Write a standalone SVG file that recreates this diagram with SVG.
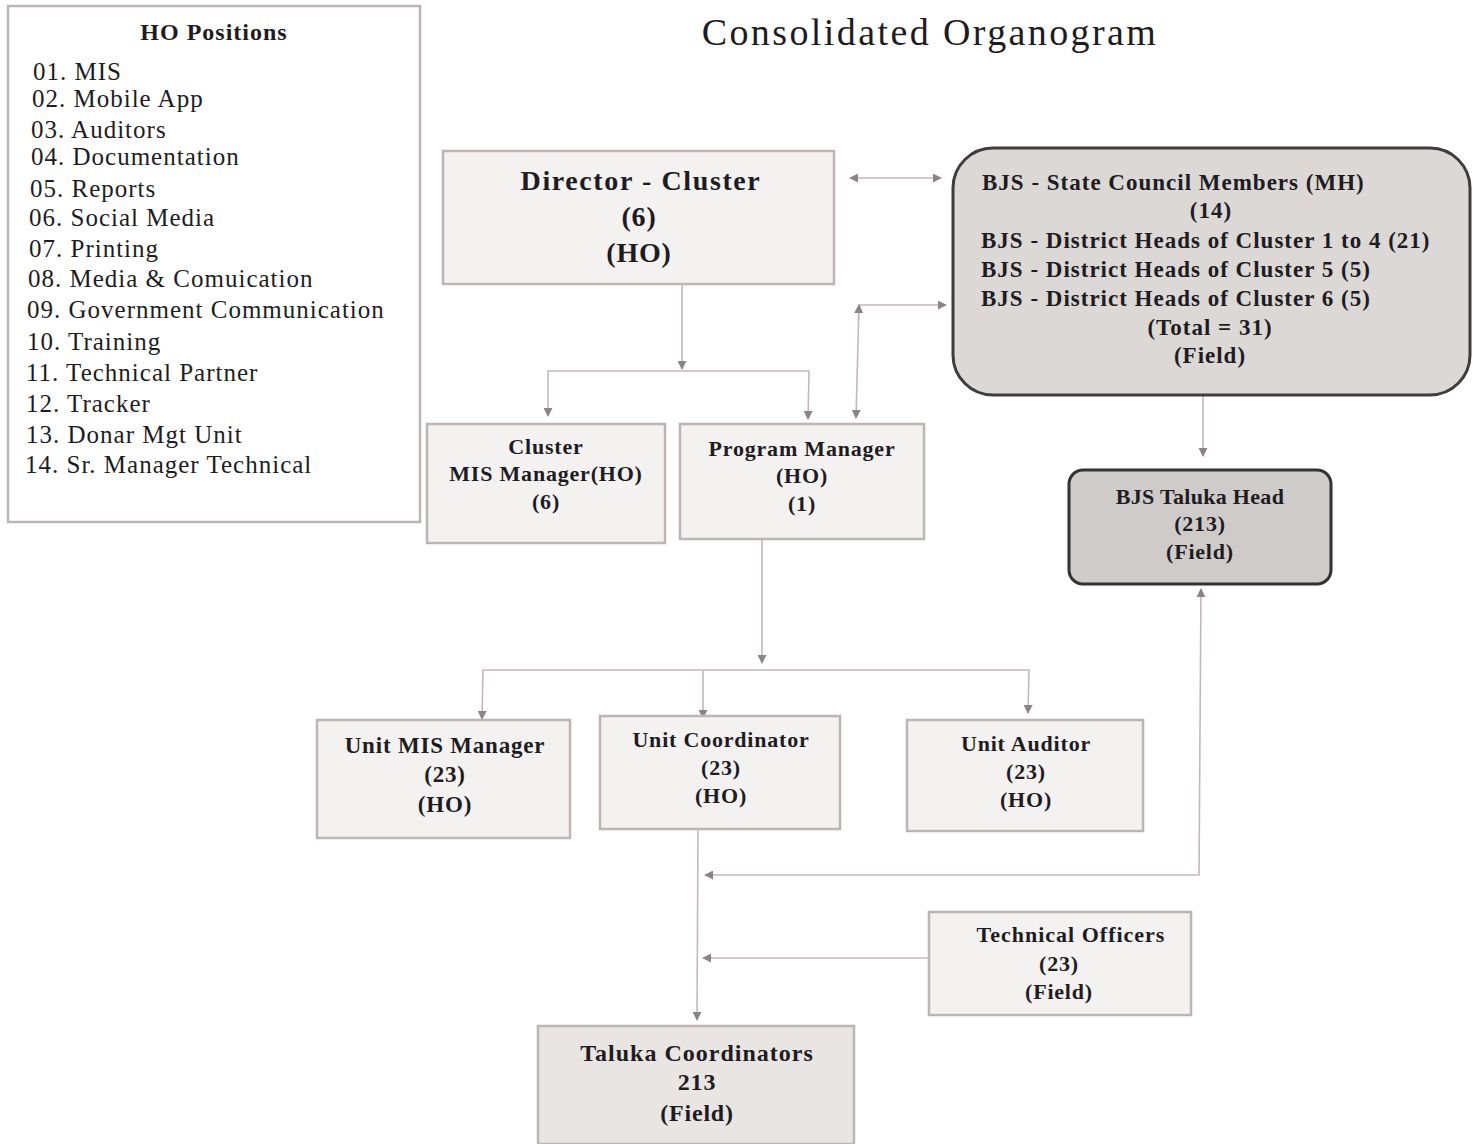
<svg xmlns="http://www.w3.org/2000/svg" width="1483" height="1144" viewBox="0 0 1483 1144">
<style>
text{font-family:"Liberation Serif","DejaVu Serif",serif;fill:#1e1c22}
.b{font-weight:bold}
.c{text-anchor:middle}
.box{fill:#f4f2f1;stroke:#bdb5b5;stroke-width:2.5}
.lst{font-size:25px;letter-spacing:1px}
.n{font-size:23px;font-weight:bold;text-anchor:middle;letter-spacing:0.8px}
.bjs{font-size:23px;font-weight:bold;letter-spacing:1px}
.ln{fill:none;stroke:#c4b8ba;stroke-width:1.6}
</style>
<defs>
<marker id="ah" viewBox="0 0 10 10" refX="9" refY="5" markerWidth="9" markerHeight="9" markerUnits="userSpaceOnUse" orient="auto-start-reverse">
<path d="M0,0 L10,5 L0,10 z" fill="#8a8486"/>
</marker>
</defs>
<rect width="1483" height="1144" fill="#ffffff"/>
<text x="930" y="45" class="c" font-size="38" style="letter-spacing:2.4px">Consolidated Organogram</text>

<g id="ho-positions">
<rect x="8" y="6" width="412" height="516" class="box" style="fill:#ffffff"/>
<text x="214" y="40" class="b c" font-size="24" style="letter-spacing:1px">HO Positions</text>
<text class="lst" x="33" y="80">01. MIS</text>
<text class="lst" x="32" y="107">02. Mobile App</text>
<text class="lst" x="31" y="138">03. Auditors</text>
<text class="lst" x="31" y="165">04. Documentation</text>
<text class="lst" x="30" y="197">05. Reports</text>
<text class="lst" x="29" y="226">06. Social Media</text>
<text class="lst" x="29" y="257">07. Printing</text>
<text class="lst" x="28" y="287">08. Media &amp; Comuication</text>
<text class="lst" x="27" y="318">09. Government Communication</text>
<text class="lst" x="27" y="350">10. Training</text>
<text class="lst" x="26" y="381">11. Technical Partner</text>
<text class="lst" x="26" y="412">12. Tracker</text>
<text class="lst" x="26" y="443">13. Donar Mgt Unit</text>
<text class="lst" x="25" y="473">14. Sr. Manager  Technical</text>
</g>

<g id="connectors">
<line x1="850" y1="178" x2="941" y2="178" class="ln" marker-start="url(#ah)" marker-end="url(#ah)"/>
<polyline points="946,305 859,305 856,418" class="ln" marker-start="url(#ah)" marker-end="url(#ah)"/>
<line x1="858.5" y1="320" x2="859" y2="305" class="ln" marker-end="url(#ah)"/>
<line x1="682" y1="284" x2="682" y2="369" class="ln" marker-end="url(#ah)"/>
<polyline points="548,416 548,371 809,371 808,419" class="ln" marker-start="url(#ah)" marker-end="url(#ah)"/>
<line x1="762" y1="540" x2="762" y2="663" class="ln" marker-end="url(#ah)"/>
<polyline points="482,719 483,670 1029,670 1028,713" class="ln" marker-start="url(#ah)" marker-end="url(#ah)"/>
<line x1="703" y1="670" x2="703" y2="718" class="ln" marker-end="url(#ah)"/>
<line x1="1203" y1="396" x2="1203" y2="456" class="ln" marker-end="url(#ah)"/>
<line x1="698" y1="829" x2="697" y2="1020" class="ln" marker-end="url(#ah)"/>
<polyline points="1201,589 1199,875 705,875" class="ln" marker-start="url(#ah)" marker-end="url(#ah)"/>
<line x1="928" y1="958" x2="703" y2="958" class="ln" marker-end="url(#ah)"/>
</g>

<g id="director-cluster">
<rect x="443" y="151" width="391" height="133" class="box"/>
<text x="641" y="190" class="n" style="font-size:28px;letter-spacing:1.6px">Director - Cluster</text>
<text x="639" y="226" class="n" style="font-size:28px">(6)</text>
<text x="639" y="262" class="n" style="font-size:28px">(HO)</text>
</g>

<g id="bjs-state">
<rect x="953" y="148" width="517" height="247" rx="40" fill="#dcd8d6" stroke="#3f3c3e" stroke-width="3"/>
<text class="bjs" x="982" y="190">BJS - State Council  Members (MH)</text>
<text class="bjs c" x="1211" y="218">(14)</text>
<text class="bjs" x="981" y="248">BJS - District Heads of Cluster 1 to 4 (21)</text>
<text class="bjs" x="981" y="277">BJS - District Heads of Cluster 5 (5)</text>
<text class="bjs" x="981" y="306">BJS - District Heads of Cluster 6 (5)</text>
<text class="bjs c" x="1210" y="335">(Total = 31)</text>
<text class="bjs c" x="1210" y="363">(Field)</text>
</g>

<g id="cluster-mis-manager">
<rect x="427" y="424" width="238" height="119" class="box"/>
<text class="n" x="546" y="454" style="font-size:22px">Cluster</text>
<text class="n" x="546" y="481" style="font-size:22px">MIS Manager(HO)</text>
<text class="n" x="546" y="509" style="font-size:22px">(6)</text>
</g>

<g id="program-manager">
<rect x="680" y="424" width="244" height="115" class="box"/>
<text class="n" x="802" y="456" style="font-size:22px">Program Manager</text>
<text class="n" x="802" y="483" style="font-size:22px">(HO)</text>
<text class="n" x="802" y="511" style="font-size:22px">(1)</text>
</g>

<g id="bjs-taluka-head">
<rect x="1069" y="470" width="262" height="114" rx="14" fill="#cfcbc9" stroke="#353235" stroke-width="3"/>
<text class="n" x="1200" y="504" style="font-size:22px;letter-spacing:0.3px">BJS Taluka Head</text>
<text class="n" x="1200" y="531" style="font-size:22px">(213)</text>
<text class="n" x="1200" y="559" style="font-size:22px">(Field)</text>
</g>

<g id="unit-mis-manager">
<rect x="317" y="720" width="253" height="118" class="box"/>
<text class="n" x="445" y="753">Unit MIS Manager</text>
<text class="n" x="445" y="782">(23)</text>
<text class="n" x="445" y="812">(HO)</text>
</g>

<g id="unit-coordinator">
<rect x="600" y="716" width="240" height="113" class="box"/>
<text class="n" x="721" y="747" style="font-size:22px">Unit Coordinator</text>
<text class="n" x="721" y="775" style="font-size:22px">(23)</text>
<text class="n" x="721" y="803" style="font-size:22px">(HO)</text>
</g>

<g id="unit-auditor">
<rect x="907" y="720" width="236" height="111" class="box"/>
<text class="n" x="1026" y="751" style="font-size:22px">Unit Auditor</text>
<text class="n" x="1026" y="779" style="font-size:22px">(23)</text>
<text class="n" x="1026" y="807" style="font-size:22px">(HO)</text>
</g>

<g id="technical-officers">
<rect x="929" y="912" width="262" height="103" class="box"/>
<text class="n" x="1071" y="942" style="font-size:22px;letter-spacing:1px">Technical Officers</text>
<text class="n" x="1059" y="971" style="font-size:22px">(23)</text>
<text class="n" x="1059" y="999" style="font-size:22px">(Field)</text>
</g>

<g id="taluka-coordinators">
<rect x="538" y="1026" width="316" height="118" class="box" style="fill:#e9e5e3"/>
<text class="n" x="697" y="1061" style="font-size:24px;letter-spacing:1px">Taluka Coordinators</text>
<text class="n" x="697" y="1090" style="font-size:24px">213</text>
<text class="n" x="697" y="1121" style="font-size:24px">(Field)</text>
</g>
</svg>
